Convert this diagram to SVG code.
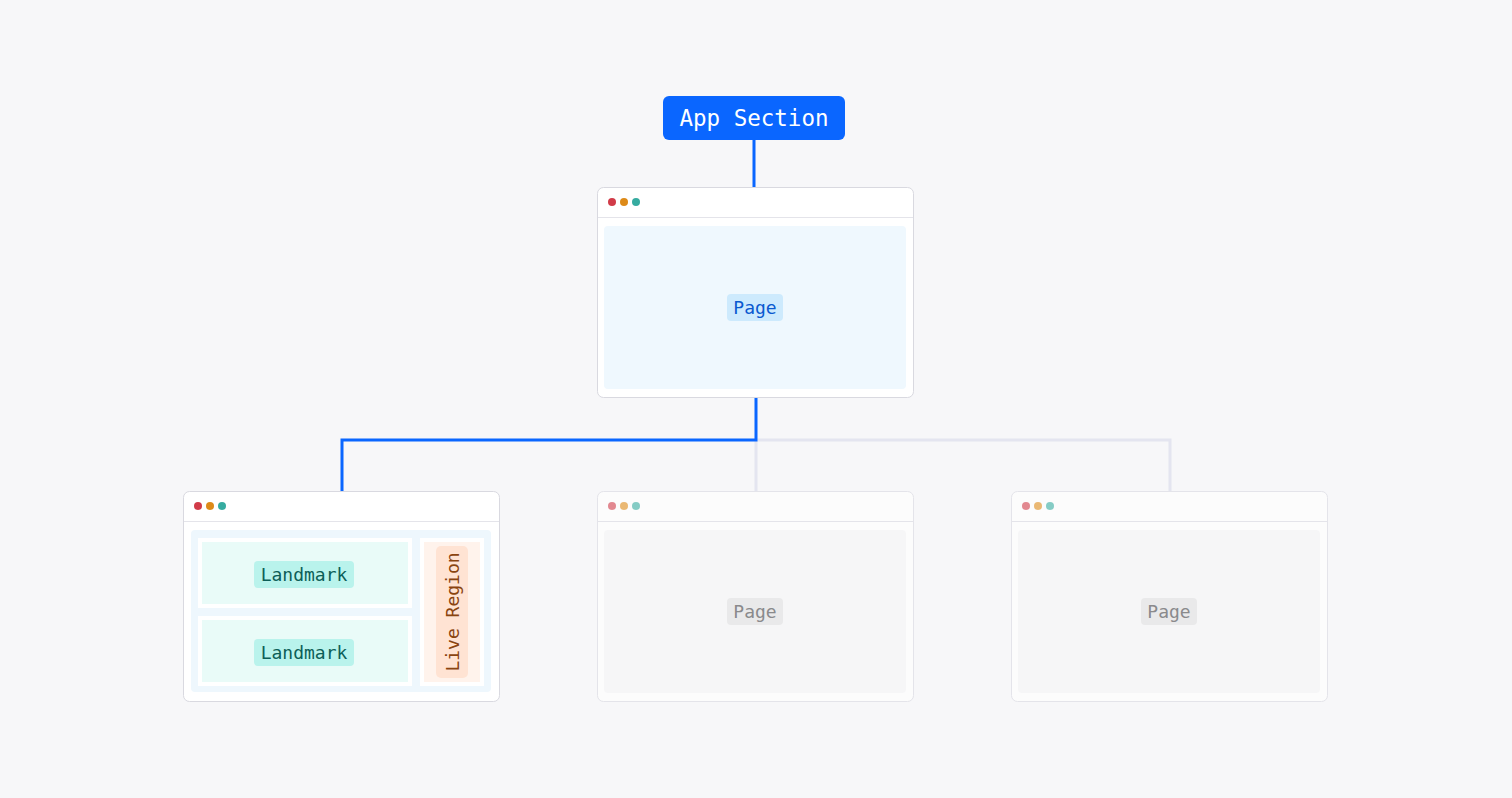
<svg xmlns="http://www.w3.org/2000/svg" width="1512" height="798" viewBox="0 0 1512 798">
<style>
.win{fill:#fff;stroke:#d9d9e0;stroke-width:1}
.hl{stroke:#e4e4ea;stroke-width:1}
.t{font-family:"DejaVu Sans Mono",monospace;font-size:18px;text-anchor:middle;dominant-baseline:central}
.big{font-size:22.5px}
.fade .dot{opacity:.6}
</style>
<rect width="1512" height="798" fill="#f7f7f9"/>
<g id="connectors" fill="none" stroke-width="3">
<path d="M756 440H1170V491M756 440V491" stroke="#e4e5f0"/>
<path d="M754 140V187M756 397V440H342V491" stroke="#0a66ff"/>
</g>
<g id="app-section">
<rect x="663" y="96" width="182" height="44" rx="6" fill="#0a66ff"/>
<text class="t big" x="754" y="118" fill="#fff">App Section</text>
</g>
<g id="page-top">
<rect class="win" x="597.5" y="187.5" width="316" height="210" rx="6"/>
<line class="hl" x1="598" y1="217.5" x2="913" y2="217.5"/>
<circle cx="612" cy="202" r="4" fill="#d13b48"/><circle cx="624" cy="202" r="4" fill="#dd8a18"/><circle cx="636" cy="202" r="4" fill="#36aba0"/>
<rect x="604" y="226" width="302" height="163" rx="4" fill="#eff8fe"/>
<rect x="727" y="294" width="56" height="27" rx="4" fill="#cdeafd"/>
<text class="t" x="755" y="307.5" fill="#0a5ad0">Page</text>
</g>
<g id="page-left">
<rect class="win" x="183.5" y="491.5" width="316" height="210" rx="6"/>
<line class="hl" x1="184" y1="521.5" x2="499" y2="521.5"/>
<circle cx="198" cy="506" r="4" fill="#d13b48"/><circle cx="210" cy="506" r="4" fill="#dd8a18"/><circle cx="222" cy="506" r="4" fill="#36aba0"/>
<rect x="191" y="530" width="300" height="162" rx="4" fill="#eef7fd"/>
<rect x="198" y="538" width="214" height="70" fill="#fff"/>
<rect x="202" y="542" width="206" height="62" fill="#e9fbf8"/>
<rect x="254" y="561" width="100" height="27" rx="4" fill="#b9f3ec"/>
<text class="t" x="304" y="574" fill="#0c5e57">Landmark</text>
<rect x="198" y="616" width="214" height="70" fill="#fff"/>
<rect x="202" y="620" width="206" height="62" fill="#e9fbf8"/>
<rect x="254" y="639" width="100" height="27" rx="4" fill="#b9f3ec"/>
<text class="t" x="304" y="652" fill="#0c5e57">Landmark</text>
<rect x="420" y="538" width="64" height="148" fill="#fff"/>
<rect x="424" y="542" width="56" height="140" fill="#fff3ec"/>
<rect x="436" y="546" width="32" height="132" rx="5" fill="#ffe3d3"/>
<text class="t" transform="translate(452 612) rotate(-90)" fill="#8a4410">Live Region</text>
</g>
<g id="page-mid" class="fade">
<rect x="597.5" y="491.5" width="316" height="210" rx="6" fill="#fcfcfc" stroke="#e4e4ea"/>
<line class="hl" x1="598" y1="521.5" x2="913" y2="521.5"/>
<circle class="dot" cx="612" cy="506" r="4" fill="#d13b48"/><circle class="dot" cx="624" cy="506" r="4" fill="#dd8a18"/><circle class="dot" cx="636" cy="506" r="4" fill="#36aba0"/>
<rect x="604" y="530" width="302" height="163" rx="4" fill="#f6f6f7"/>
<rect x="727" y="598" width="56" height="27" rx="4" fill="#e9e9ea"/>
<text class="t" x="755" y="611.5" fill="#8a8a8c">Page</text>
</g>
<g id="page-right" class="fade">
<rect x="1011.5" y="491.5" width="316" height="210" rx="6" fill="#fcfcfc" stroke="#e4e4ea"/>
<line class="hl" x1="1012" y1="521.5" x2="1327" y2="521.5"/>
<circle class="dot" cx="1026" cy="506" r="4" fill="#d13b48"/><circle class="dot" cx="1038" cy="506" r="4" fill="#dd8a18"/><circle class="dot" cx="1050" cy="506" r="4" fill="#36aba0"/>
<rect x="1018" y="530" width="302" height="163" rx="4" fill="#f6f6f7"/>
<rect x="1141" y="598" width="56" height="27" rx="4" fill="#e9e9ea"/>
<text class="t" x="1169" y="611.5" fill="#8a8a8c">Page</text>
</g>
</svg>
